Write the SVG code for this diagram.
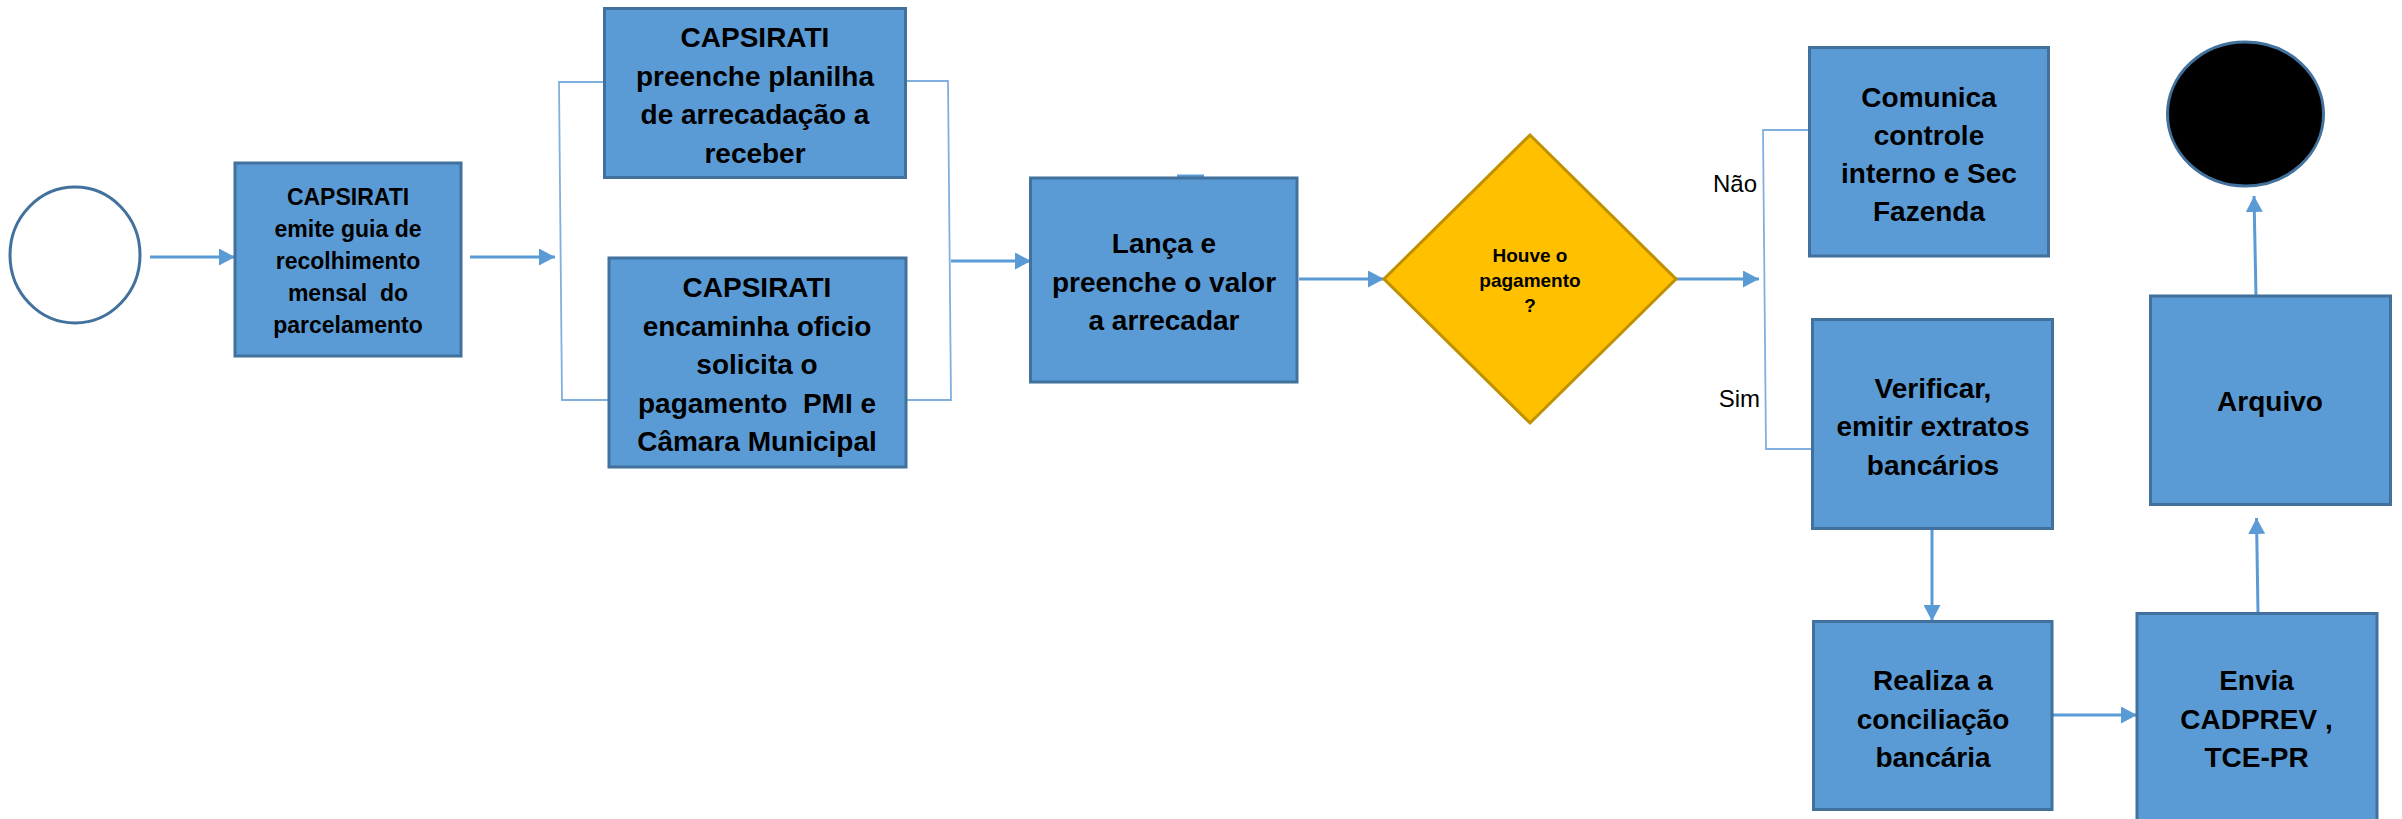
<svg xmlns="http://www.w3.org/2000/svg" width="2402" height="819" viewBox="0 0 2402 819">
<defs>
<marker id="ah" markerUnits="userSpaceOnUse" markerWidth="16" markerHeight="17" viewBox="0 0 16 17" refX="16" refY="8.5" orient="auto">
<path d="M0,0 L16,8.5 L0,17 Z" fill="#5B9BD5"/>
</marker>
<style>
.box{fill:#5B9BD5;stroke:#41719C;stroke-width:3}
.t{font-family:"Liberation Sans",Arial,sans-serif;font-weight:bold;fill:#000;text-anchor:middle;font-size:28px;white-space:pre}
.t1{font-size:23px}
.td{font-size:19px}
.lbl{font-family:"Liberation Sans",Arial,sans-serif;font-size:24px;fill:#000;text-anchor:end}
.arr{stroke:#5B9BD5;stroke-width:3;fill:none;marker-end:url(#ah)}
.br{stroke:#7FB0DE;stroke-width:1.8;fill:none}
</style>
</defs>
<rect width="2402" height="819" fill="#fff"/>
<g id="connectors">
<line class="arr" x1="150" y1="257" x2="235" y2="257"/>
<line class="arr" x1="470" y1="257" x2="555" y2="257"/>
<polyline class="br" points="604,82 559,82 562,400 609,400"/>
<polyline class="br" points="906,81 948,81 951,400 906,400"/>
<line class="arr" x1="951" y1="261" x2="1031" y2="261"/>
<line x1="1177" y1="176" x2="1204" y2="176" stroke="#5B9BD5" stroke-width="3"/>
<line class="arr" x1="1299" y1="279" x2="1384" y2="279"/>
<line class="arr" x1="1676" y1="279" x2="1759" y2="279"/>
<polyline class="br" points="1809,130 1763,130 1766,449 1812,449"/>
<line class="arr" x1="1932" y1="529" x2="1932" y2="621"/>
<line class="arr" x1="2052" y1="715" x2="2137" y2="715"/>
<line class="arr" x1="2258" y1="613" x2="2256.5" y2="518"/>
<line class="arr" x1="2256" y1="296" x2="2254" y2="196"/>
</g>
<g id="start"><ellipse cx="75" cy="255" rx="65" ry="68" fill="#fff" stroke="#41719C" stroke-width="3"/></g>
<g id="n1"><rect class="box" x="235" y="163" width="226" height="193"/>
<text class="t t1" xml:space="preserve"><tspan x="348" y="205">CAPSIRATI</tspan><tspan x="348" y="237">emite guia de</tspan><tspan x="348" y="269">recolhimento</tspan><tspan x="348" y="301">mensal  do</tspan><tspan x="348" y="333">parcelamento</tspan></text></g>
<g id="n2"><rect class="box" x="604.5" y="8.5" width="301" height="169"/>
<text class="t"><tspan x="755" y="47">CAPSIRATI</tspan><tspan x="755" y="85.5">preenche planilha</tspan><tspan x="755" y="124">de arrecadação a</tspan><tspan x="755" y="162.5">receber</tspan></text></g>
<g id="n3"><rect class="box" x="609" y="258" width="297" height="209"/>
<text class="t" xml:space="preserve"><tspan x="757" y="297">CAPSIRATI</tspan><tspan x="757" y="335.5">encaminha oficio</tspan><tspan x="757" y="374">solicita o</tspan><tspan x="757" y="412.5">pagamento  PMI e</tspan><tspan x="757" y="451">Câmara Municipal</tspan></text></g>
<g id="n4"><rect class="box" x="1030.5" y="178" width="266.5" height="204"/>
<text class="t"><tspan x="1164" y="253">Lança e</tspan><tspan x="1164" y="291.5">preenche o valor</tspan><tspan x="1164" y="330">a arrecadar</tspan></text></g>
<g id="decision"><polygon points="1530,135 1676,279 1530,423 1384,279" fill="#FFC000" stroke="#BF9000" stroke-width="3"/>
<text class="t td"><tspan x="1530" y="262">Houve o</tspan><tspan x="1530" y="287">pagamento</tspan><tspan x="1530" y="312">?</tspan></text></g>
<g id="labels"><text class="lbl" x="1757" y="192">Não</text><text class="lbl" x="1760" y="407">Sim</text></g>
<g id="n5"><rect class="box" x="1809.5" y="47.5" width="239" height="208.5"/>
<text class="t"><tspan x="1929" y="106.5">Comunica</tspan><tspan x="1929" y="144.5">controle</tspan><tspan x="1929" y="182.5">interno e Sec</tspan><tspan x="1929" y="220.5">Fazenda</tspan></text></g>
<g id="n6"><rect class="box" x="1812.5" y="319.5" width="240" height="209"/>
<text class="t"><tspan x="1933" y="397.5">Verificar,</tspan><tspan x="1933" y="436">emitir extratos</tspan><tspan x="1933" y="474.5">bancários</tspan></text></g>
<g id="n7"><rect class="box" x="1813.5" y="621.5" width="238.5" height="188"/>
<text class="t"><tspan x="1933" y="690">Realiza a</tspan><tspan x="1933" y="728.5">conciliação</tspan><tspan x="1933" y="767">bancária</tspan></text></g>
<g id="n8"><rect class="box" x="2137" y="613.5" width="240" height="220"/>
<text class="t"><tspan x="2256.5" y="690">Envia</tspan><tspan x="2256.5" y="728.5">CADPREV ,</tspan><tspan x="2256.5" y="767">TCE-PR</tspan></text></g>
<g id="n9"><rect class="box" x="2150.5" y="296" width="240" height="208.5"/>
<text class="t"><tspan x="2270" y="411">Arquivo</tspan></text></g>
<g id="end"><ellipse cx="2245.5" cy="114" rx="78" ry="72" fill="#000" stroke="#41719C" stroke-width="3"/></g>
</svg>
